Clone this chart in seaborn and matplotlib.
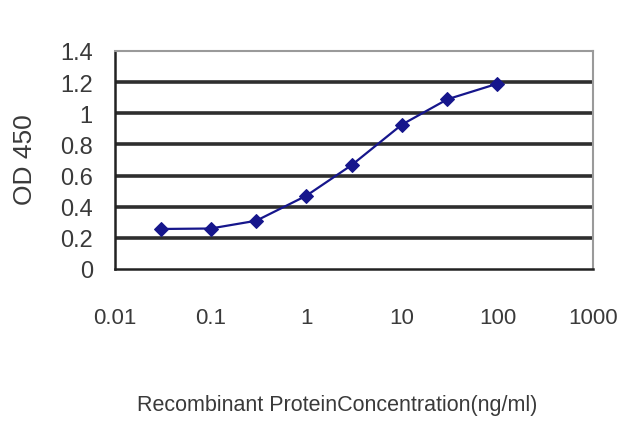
import matplotlib
matplotlib.use("Agg")
import matplotlib.pyplot as plt
import seaborn as sns
import pandas as pd

# values
concentration = [0.03, 0.1, 0.3, 1, 3, 10, 30, 100]
od450 = [0.257, 0.26, 0.31, 0.47, 0.668, 0.927, 1.09, 1.19]
y_ticks = [0, 0.2, 0.4, 0.6, 0.8, 1, 1.2, 1.4]
y_labels = ["0", "0.2", "0.4", "0.6", "0.8", "1", "1.2", "1.4"]
x_ticks = [0.01, 0.1, 1, 10, 100, 1000]
x_labels = ["0.01", "0.1", "1", "10", "100", "1000"]

df = pd.DataFrame({"conc": concentration, "od": od450})

sns.set_style("white")
plt.rcParams["font.family"] = ["Liberation Sans", "DejaVu Sans"]

fig = plt.figure(figsize=(6.4, 4.27), dpi=100)
ax = fig.add_axes([115 / 640, 1 - 270 / 427, (593 - 115) / 640, (270 - 52) / 427])

ax.set_xscale("log")
ax.set_xlim(0.01, 1000)
ax.set_ylim(0, 1.4)

# horizontal gridlines
for y in y_ticks[1:-1]:
    ax.axhline(y, color="#2e2e2e", lw=2.6, zorder=1)

sns.lineplot(data=df, x="conc", y="od", ax=ax, color="#16168c", lw=1.6,
             marker="D", markersize=7, markeredgecolor="#16168c", zorder=3)

ax.set_yticks(y_ticks)
ax.set_yticklabels(y_labels, fontsize=17, color="#3a3a3a")
ax.set_xticks(x_ticks)
ax.set_xticklabels(x_labels, fontsize=16, color="#3a3a3a")
ax.minorticks_off()
ax.tick_params(axis="y", length=0, pad=16)
ax.tick_params(axis="x", direction="in", length=4, width=1, color="#555555", pad=27)

for side in ["left", "bottom"]:
    ax.spines[side].set_color("#222222")
    ax.spines[side].set_linewidth(1.8)
for side in ["top", "right"]:
    ax.spines[side].set_color("#9a9a9a")
    ax.spines[side].set_linewidth(1.5)

ax.set_ylabel("OD 450", fontsize=19, color="#3a3a3a")
ax.yaxis.set_label_coords(-0.163, 0.505)
ax.set_xlabel("Recombinant ProteinConcentration(ng/ml)", fontsize=15.5,
              color="#3a3a3a")
ax.xaxis.set_label_coords(0.464, -0.573)

fig.savefig("out.png", dpi=100)
